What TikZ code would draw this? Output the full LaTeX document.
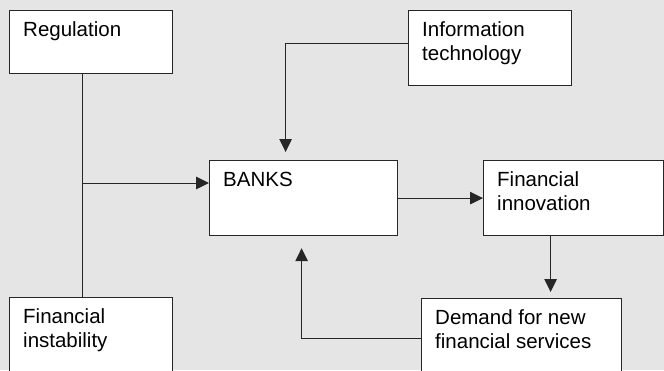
\documentclass[tikz,border=0pt]{standalone}
\usepackage{fontspec}
\setmainfont{Liberation Sans}
\usetikzlibrary{arrows.meta}
\definecolor{bggray}{HTML}{E5E5E5}
\tikzset{font=\fontsize{20.5}{24}\selectfont}
\tikzset{
  blk/.style={draw=black!85, line width=1.2pt, fill=white, inner sep=0pt, anchor=north west},
  txt/.style={anchor=north west, inner sep=0pt, align=left, xshift=14pt, yshift=-11.5pt},
  con/.style={draw=black!85, line width=1pt},
  arr/.style={con, -{Triangle[length=13pt,width=12.5pt]}}
}

\begin{document}
\begin{tikzpicture}[x=1pt,y=-1pt]
\useasboundingbox (0,0) rectangle (664,370);
\clip (0,0) rectangle (664,370);
\fill[bggray] (0,0) rectangle (664,370);
\node[blk, minimum width=163, minimum height=63, label={[txt]north west:Regulation}] (reg) at (9,10) {};
\node[blk, minimum width=163, minimum height=75, label={[txt]north west:{Information\\technology}}] (itech) at (408,10) {};
\node[blk, minimum width=188, minimum height=75, label={[txt]north west:BANKS}] (banks) at (209,160) {};
\node[blk, minimum width=180, minimum height=75, label={[txt]north west:{Financial\\innovation}}] (innov) at (483,160) {};
\node[blk, minimum width=163, minimum height=80, label={[txt]north west:{Financial\\instability}}] (instab) at (9,297) {};
\node[blk, minimum width=200, minimum height=80, label={[txt]north west:{Demand for new\\financial services}}] (demand) at (421,298) {};
\coordinate (rj) at (82,183);
\draw[con] (reg.south -| rj) -- (instab.north -| rj);
\draw[arr] (rj) -- (rj -| banks.west);
\draw[arr, shorten >=8pt] ([yshift=4.5pt]itech.west) -| ([xshift=-18pt]banks.north);
\draw[arr] (banks.east) -- (innov.west);
\draw[arr, shorten >=6pt] ([xshift=-23pt]innov.south) -- ([xshift=-23pt]innov.south |- demand.north);
\draw[arr, shorten >=12pt] (demand.west) -| ([xshift=-2pt]banks.south);
\end{tikzpicture}
\end{document}
